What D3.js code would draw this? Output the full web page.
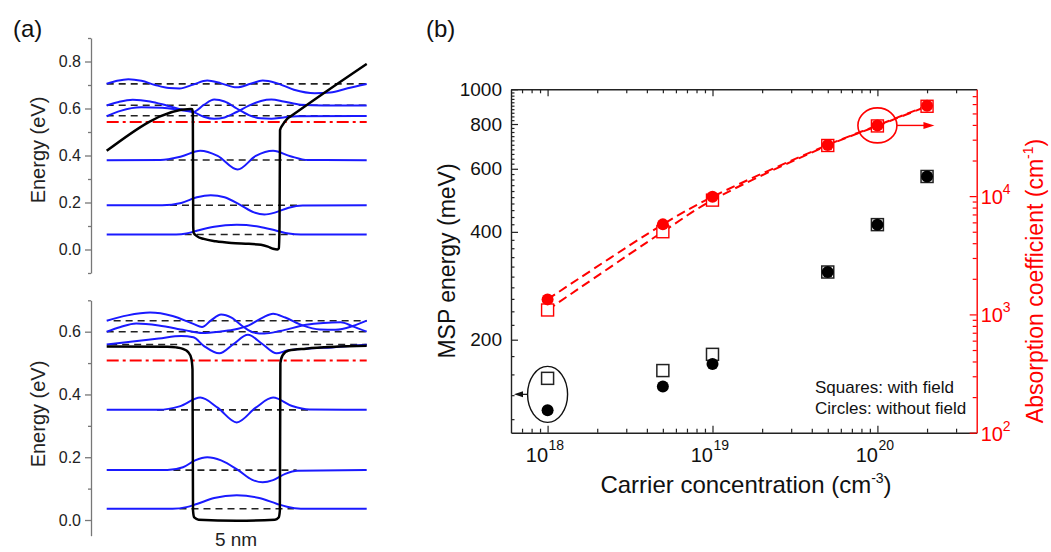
<!DOCTYPE html>
<html><head><meta charset="utf-8">
<script src="https://cdn.jsdelivr.net/npm/d3@7"></script>
<style>
body{margin:0;background:#fff;}
svg{font-family:"Liberation Sans",Arial,Helvetica,sans-serif;}
</style>
</head><body>
<svg id="c" width="1051" height="552"></svg>
<script>
// ================= DATA =================
// ---- panel (a): position (nm) vs energy (eV) ----
const topPotential = [[0,0.42],[4.85,0.598],[4.93,0.597],[4.97,0.58],[4.99,0.1],[5.02,0.07],[5.2,0.057],[5.6,0.045],[6.3,0.035],[7.2,0.028],[8.2,0.024],[8.9,0.02],[9.3,0.012],[9.6,0.003],[9.85,0],[9.93,0.005],[9.97,0.1],[10.0,0.508],[10.15,0.53],[10.4,0.555],[10.7,0.571],[15,0.79]];
const topLevels = [0.064, 0.188, 0.381, 0.569, 0.614, 0.705];
const topLevelFrom = [4.5, 3.65, 3.46, 0, 0, 0];
const topLevelTo = [10.8, 11.15, 11.7, 15, 15, 15];
const topFermi = 0.543;
const topPsi0 = [[0,0.064],[4,0.064],[4.6,0.068],[5.2,0.08],[6.2,0.097],[7.5,0.105],[8.8,0.097],[9.8,0.08],[10.5,0.068],[11.2,0.064],[15,0.064]];
const topPsi1 = [[0,0.188],[3.2,0.188],[4.3,0.198],[5.2,0.222],[6.0,0.231],[6.8,0.222],[7.7,0.19],[8.5,0.158],[9.1,0.149],[9.7,0.157],[10.5,0.178],[11.3,0.187],[15,0.188]];
const topPsi2 = [[0,0.38],[3.1,0.381],[4.3,0.396],[5.4,0.42],[6.4,0.398],[7.55,0.34],[8.6,0.398],[9.6,0.42],[10.6,0.397],[11.6,0.381],[15,0.38]];
const topPsi3 = [[0,0.567],[0.8,0.59],[2.0,0.605],[3.2,0.603],[4.3,0.593],[5.0,0.586],[5.6,0.615],[6.2,0.638],[6.8,0.63],[7.5,0.6],[8.2,0.572],[8.9,0.558],[9.5,0.556],[10.2,0.562],[11,0.567],[15,0.568]];
const topPsi4 = [[0,0.613],[0.7,0.628],[1.5,0.637],[2.5,0.63],[3.5,0.612],[4.4,0.595],[5.0,0.585],[5.6,0.565],[6.2,0.556],[6.8,0.562],[7.5,0.585],[8.2,0.612],[8.9,0.632],[9.5,0.638],[10.2,0.63],[11.2,0.616],[12.5,0.613],[15,0.613]];
const topPsi5 = [[0,0.705],[0.6,0.718],[1.25,0.725],[2.0,0.718],[2.8,0.7],[3.6,0.687],[4.2,0.685],[5.0,0.702],[5.8,0.719],[6.6,0.707],[7.5,0.69],[8.3,0.705],[9.0,0.719],[9.8,0.708],[10.8,0.68],[12.0,0.665],[12.9,0.668],[13.9,0.686],[15,0.704]];

const botPotential = [[0,0.553],[3.5,0.552],[4.0,0.55],[4.4,0.545],[4.7,0.535],[4.88,0.515],[4.95,0.48],[4.98,0.03],[5.05,0.008],[5.3,0.001],[7.5,-0.002],[9.7,0.001],[9.92,0.008],[9.99,0.03],[10.02,0.5],[10.15,0.525],[10.5,0.54],[11.5,0.546],[15,0.555]];
const botLevels = [0.036, 0.159, 0.351, 0.559, 0.6, 0.635];
const botLevelFrom = [4.2, 3.85, 2.9, 0.2, 0, 0.4];
const botLevelTo = [10.8, 10.96, 11.7, 15, 15, 15];
const botFermi = 0.508;
const botPsi0 = [[0,0.036],[3.8,0.036],[4.6,0.041],[5.2,0.051],[6.2,0.07],[7.5,0.079],[8.8,0.07],[9.8,0.052],[10.4,0.042],[11.2,0.036],[15,0.036]];
const botPsi1 = [[0,0.159],[3.5,0.159],[4.4,0.168],[5.1,0.19],[5.8,0.2],[6.6,0.19],[7.6,0.158],[8.4,0.128],[9.0,0.12],[9.6,0.127],[10.3,0.147],[11.0,0.157],[15,0.159]];
const botPsi2 = [[0,0.351],[3.0,0.351],[4.2,0.362],[5.4,0.39],[6.4,0.358],[7.5,0.311],[8.6,0.358],[9.6,0.39],[10.7,0.363],[11.7,0.352],[15,0.351]];
const botPsi3 = [[0,0.559],[1.5,0.569],[3,0.578],[4.3,0.586],[5.0,0.582],[5.6,0.555],[6.5,0.531],[7.3,0.56],[8.15,0.59],[9.0,0.56],[9.8,0.531],[10.4,0.54],[11.5,0.546],[13,0.55],[15,0.558]];
const botPsi4 = [[0,0.6],[0.8,0.615],[1.7,0.626],[3,0.62],[4.5,0.605],[5.5,0.596],[6.5,0.6],[7.3,0.606],[8.2,0.62],[9.0,0.645],[9.6,0.657],[10.3,0.645],[11.3,0.62],[12.3,0.607],[13.2,0.606],[14.2,0.618],[15,0.635]];
const botPsi5 = [[0,0.635],[1.2,0.652],[2.5,0.661],[3.8,0.65],[5.0,0.625],[5.5,0.615],[6.0,0.635],[6.6,0.655],[7.2,0.645],[7.9,0.615],[8.5,0.597],[9.1,0.594],[10,0.602],[11.5,0.622],[12.5,0.628],[13.5,0.63],[14.2,0.617],[15,0.6]];

const topTicks = [0.0, 0.2, 0.4, 0.6, 0.8];
const topMinor = [-0.1, 0.1, 0.3, 0.5, 0.7, 0.9];
const botTicks = [0.0, 0.2, 0.4, 0.6];
const botMinor = [0.1, 0.3, 0.5, 0.7];

// ---- panel (b) ----
const concentration = [1e18, 5e18, 1e19, 5e19, 1e20, 2e20];
const mspWithField = [156, 164, 182, 309, 419, 571];
const mspWithoutField = [127, 148, 171, 309, 419, 571];
const absWithField = [1090, 5000, 9250, 26800, 39200, 57500];
const absWithoutField = [1340, 5770, 9860, 27100, 39600, 58000];
const xMajor = [1e18, 1e19, 1e20];
const xMajorExp = ["18", "19", "20"];
const xMinor = [7e17,8e17,9e17,2e18,3e18,4e18,5e18,6e18,7e18,8e18,9e18,2e19,3e19,4e19,5e19,6e19,7e19,8e19,9e19,2e20,3e20];
const leftMajor = [200, 400, 600, 800, 1000];
const leftMinor = [120,140,160,180,220,240,260,280,300,320,340,360,380,420,440,460,480,500,520,540,560,580,620,640,660,680,700,720,740,760,780,820,840,860,880,900,920,940,960,980];
const rightMajor = [100, 1000, 10000];
const rightMajorExp = ["2", "3", "4"];
const rightMinor = [200,300,400,500,600,700,800,900,2000,3000,4000,5000,6000,7000,8000,9000,20000,30000,40000,50000,60000,70000];

// ================= DRAW =================
const svg = d3.select("#c");
const BLUE = "#1a1aff", RED = "#ff0000";

// ---------- panel (a) ----------
const xA = d3.scaleLinear().domain([0, 15]).range([106.7, 366.7]);

function subPanel(cfg) {
  const y = d3.scaleLinear().domain(cfg.domain).range(cfg.range);
  const g = svg.append("g");
  const ax = g.append("g").attr("transform", "translate(91,0)")
    .call(d3.axisLeft(y).tickValues(cfg.ticks).tickSize(6).tickSizeOuter(0).tickPadding(4).tickFormat(d3.format(".1f")));
  ax.select(".domain").attr("stroke", "#777").attr("stroke-width", 1.3);
  ax.selectAll(".tick line").attr("stroke", "#777").attr("stroke-width", 1.3);
  ax.selectAll(".tick text").attr("fill", "#222").style("font-size", "16px").attr("font-family", null);
  const mx = g.append("g").attr("transform", "translate(91,0)")
    .call(d3.axisLeft(y).tickValues(cfg.minor).tickSize(3).tickFormat(""));
  mx.select(".domain").remove();
  mx.selectAll(".tick line").attr("stroke", "#777").attr("stroke-width", 1.3);

  g.selectAll(".lvl").data(cfg.levels).join("line")
    .attr("x1", (d, i) => xA(cfg.from[i])).attr("x2", (d, i) => xA(cfg.to[i]))
    .attr("y1", d => y(d)).attr("y2", d => y(d))
    .attr("stroke", "#222").attr("stroke-width", 1.6).attr("stroke-dasharray", "7,5");
  g.append("line").attr("x1", xA(0)).attr("x2", xA(15))
    .attr("y1", y(cfg.fermi)).attr("y2", y(cfg.fermi))
    .attr("stroke", RED).attr("stroke-width", 2).attr("stroke-dasharray", "12,4,3,4");
  const line = d3.line().x(d => xA(d[0])).y(d => y(d[1])).curve(d3.curveMonotoneX);
  g.selectAll(".psi").data(cfg.psi).join("path")
    .attr("d", line).attr("fill", "none").attr("stroke", BLUE).attr("stroke-width", 2);
  g.append("path").attr("d", line(cfg.potential)).attr("fill", "none")
    .attr("stroke", "#000").attr("stroke-width", 2.5).attr("stroke-linejoin", "round");
  g.append("text").attr("transform", `translate(45,${cfg.labelY}) rotate(-90)`)
    .attr("text-anchor", "middle").style("font-size", "20px").attr("fill", "#222").text("Energy (eV)");
  return y;
}

subPanel({domain: [-0.1, 0.9], range: [273, 38], ticks: topTicks, minor: topMinor,
  levels: topLevels, from: topLevelFrom, to: topLevelTo, fermi: topFermi,
  psi: [topPsi0, topPsi1, topPsi2, topPsi3, topPsi4, topPsi5], potential: topPotential, labelY: 150});
subPanel({domain: [-0.05, 0.7], range: [535.7, 300.3], ticks: botTicks, minor: botMinor,
  levels: botLevels, from: botLevelFrom, to: botLevelTo, fermi: botFermi,
  psi: [botPsi0, botPsi1, botPsi2, botPsi3, botPsi4, botPsi5], potential: botPotential, labelY: 414});

svg.append("text").attr("x", 236).attr("y", 546).attr("text-anchor", "middle")
  .style("font-size", "19px").attr("fill", "#222").text("5 nm");
svg.append("text").attr("x", 13).attr("y", 37).style("font-size", "24px").attr("fill", "#111").text("(a)");

// ---------- panel (b) ----------
const L = 511, R = 976.7, T = 89.3, B = 432.7;
const xB = d3.scaleLog().domain([6e17, 4e20]).range([L, R]);
const yL = d3.scaleLog().domain([110, 1000]).range([B, T]);
const yR = d3.scaleLog().domain([100, 80000]).range([B, T]);
const gb = svg.append("g");

function styleAxis(a, color) {
  a.select(".domain").attr("stroke", color).attr("stroke-width", 1.4);
  a.selectAll(".tick line").attr("stroke", color).attr("stroke-width", 1.2);
}
let a;
a = gb.append("g").attr("transform", `translate(0,${B})`).call(d3.axisBottom(xB).tickValues(xMajor).tickSize(-7).tickSizeOuter(0).tickFormat(""));
styleAxis(a, "#222");
a = gb.append("g").attr("transform", `translate(0,${B})`).call(d3.axisBottom(xB).tickValues(xMinor).tickSize(-4).tickFormat(""));
a.select(".domain").remove(); styleAxis(a, "#222");
a = gb.append("g").attr("transform", `translate(0,${T})`).call(d3.axisTop(xB).tickValues(xMajor).tickSize(-7).tickSizeOuter(0).tickFormat(""));
styleAxis(a, "#222");
a = gb.append("g").attr("transform", `translate(0,${T})`).call(d3.axisTop(xB).tickValues(xMinor).tickSize(-4).tickFormat(""));
a.select(".domain").remove(); styleAxis(a, "#222");
a = gb.append("g").attr("transform", `translate(${L},0)`).call(d3.axisLeft(yL).tickValues(leftMajor).tickSize(-7).tickSizeOuter(0).tickPadding(9).tickFormat(d3.format("d")));
styleAxis(a, "#222");
a.selectAll(".tick text").attr("fill", "#111").style("font-size", "19px").attr("font-family", null);
a = gb.append("g").attr("transform", `translate(${L},0)`).call(d3.axisLeft(yL).tickValues(leftMinor).tickSize(-3.5).tickFormat(""));
a.select(".domain").remove(); styleAxis(a, "#222");
a = gb.append("g").attr("transform", `translate(${R},0)`).call(d3.axisRight(yR).tickValues(rightMajor).tickSize(-7).tickSizeOuter(0).tickFormat(""));
styleAxis(a, RED);
a = gb.append("g").attr("transform", `translate(${R},0)`).call(d3.axisRight(yR).tickValues(rightMinor).tickSize(-4).tickFormat(""));
a.select(".domain").remove(); styleAxis(a, RED);

xMajor.forEach((v, i) => {
  gb.append("text").attr("x", xB(v) + 0.5).attr("y", 462).attr("text-anchor", "end")
    .style("font-size", "20px").attr("fill", "#111").text("10");
  gb.append("text").attr("x", xB(v) + 1).attr("y", 450).attr("text-anchor", "start")
    .style("font-size", "14px").attr("fill", "#111").text(xMajorExp[i]);
});
rightMajor.forEach((v, i) => {
  gb.append("text").attr("x", R + 4).attr("y", yR(v) + 8).attr("text-anchor", "start")
    .style("font-size", "20px").attr("fill", RED).text("10");
  gb.append("text").attr("x", R + 26).attr("y", yR(v) - 2).attr("text-anchor", "start")
    .style("font-size", "14px").attr("fill", RED).text(rightMajorExp[i]);
});

const xt = gb.append("text").attr("x", 746).attr("y", 493).attr("text-anchor", "middle")
  .style("font-size", "24px").attr("fill", "#111");
xt.append("tspan").text("Carrier concentration (cm");
xt.append("tspan").attr("dy", -10).style("font-size", "14px").text("-3");
xt.append("tspan").attr("dy", 10).text(")");
gb.append("text").attr("transform", `translate(455,${(T + B) / 2}) rotate(-90)`).attr("text-anchor", "middle")
  .style("font-size", "23px").attr("fill", "#111").text("MSP energy (meV)");
const rt = gb.append("text").attr("transform", `translate(1043,${(T + B) / 2 + 20}) rotate(-90)`).attr("text-anchor", "middle")
  .style("font-size", "23px").attr("fill", RED);
rt.append("tspan").text("Absorption coefficient (cm");
rt.append("tspan").attr("dy", -10).style("font-size", "14px").text("-1");
rt.append("tspan").attr("dy", 10).text(")");

const absLineSq = d3.line().x((d, i) => xB(concentration[i])).y(d => yR(d)).curve(d3.curveCatmullRom);
gb.append("path").attr("d", absLineSq(absWithField)).attr("fill", "none").attr("stroke", RED)
  .attr("stroke-width", 2).attr("stroke-dasharray", "9,5");
gb.append("path").attr("d", absLineSq(absWithoutField)).attr("fill", "none").attr("stroke", RED)
  .attr("stroke-width", 2).attr("stroke-dasharray", "9,5");

const S = 12, RAD = 6;
gb.selectAll(".bsq").data(mspWithField).join("rect")
  .attr("x", (d, i) => xB(concentration[i]) - S / 2).attr("y", d => yL(d) - S / 2)
  .attr("width", S).attr("height", S).attr("fill", "#fff").attr("stroke", "#222").attr("stroke-width", 1.5);
gb.selectAll(".bci").data(mspWithoutField).join("circle")
  .attr("cx", (d, i) => xB(concentration[i])).attr("cy", d => yL(d)).attr("r", RAD).attr("fill", "#000");
gb.selectAll(".rsq").data(absWithField).join("rect")
  .attr("x", (d, i) => xB(concentration[i]) - S / 2).attr("y", d => yR(d) - S / 2)
  .attr("width", S).attr("height", S).attr("fill", "#fff").attr("stroke", RED).attr("stroke-width", 1.4);
gb.selectAll(".rci").data(absWithoutField).join("circle")
  .attr("cx", (d, i) => xB(concentration[i])).attr("cy", d => yR(d)).attr("r", RAD).attr("fill", RED);

const bx = xB(concentration[0]), by = (yL(mspWithField[0]) + yL(mspWithoutField[0])) / 2;
gb.append("ellipse").attr("cx", bx).attr("cy", by).attr("rx", 20).attr("ry", 28)
  .attr("fill", "none").attr("stroke", "#111").attr("stroke-width", 1.4);
gb.append("line").attr("x1", bx - 20).attr("x2", L + 10).attr("y1", by).attr("y2", by).attr("stroke", "#111").attr("stroke-width", 1.2);
gb.append("path").attr("d", `M${L + 3},${by} L${L + 12},${by - 3} L${L + 12},${by + 3} Z`).attr("fill", "#111");
const rx = xB(concentration[4]), ry = yR(absWithoutField[4]);
gb.append("ellipse").attr("cx", rx).attr("cy", ry).attr("rx", 19.5).attr("ry", 17.5)
  .attr("fill", "none").attr("stroke", RED).attr("stroke-width", 1.6);
gb.append("line").attr("x1", rx + 19.5).attr("x2", rx + 48).attr("y1", ry).attr("y2", ry).attr("stroke", RED).attr("stroke-width", 1.4);
gb.append("path").attr("d", `M${rx + 57},${ry} L${rx + 46},${ry - 3.5} L${rx + 46},${ry + 3.5} Z`).attr("fill", RED);

gb.append("text").attr("x", 815).attr("y", 393).style("font-size", "17px").attr("fill", "#111").text("Squares: with field");
gb.append("text").attr("x", 815).attr("y", 414).style("font-size", "17px").attr("fill", "#111").text("Circles: without field");

svg.append("text").attr("x", 426).attr("y", 37).style("font-size", "24px").attr("fill", "#111").text("(b)");
</script>
</body></html>
